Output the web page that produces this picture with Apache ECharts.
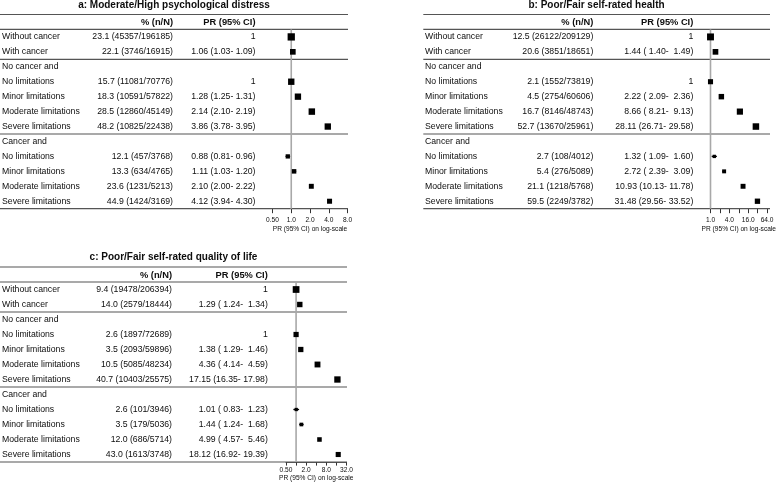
<!DOCTYPE html>
<html><head><meta charset="utf-8">
<script src="https://cdn.jsdelivr.net/npm/echarts/dist/echarts.min.js"></script>
<style>html,body{margin:0;padding:0;background:#fff}#c{width:778px;height:487px}</style>
</head><body><div id="c"></div>
<script>
// ---------- data ----------
const rowLabels = ["Without cancer","With cancer","No cancer and","No limitations","Minor limitations","Moderate limitations","Severe limitations","Cancer and","No limitations","Minor limitations","Moderate limitations","Severe limitations"];

// a: Moderate/High psychological distress
const aPct   = [23.1, 22.1, null, 15.7, 18.3, 28.5, 48.2, null, 12.1, 13.3, 23.6, 44.9];
const aCases = [45357, 3746, null, 11081, 10591, 12860, 10825, null, 457, 634, 1231, 1424];
const aTotal = [196185, 16915, null, 70776, 57822, 45149, 22438, null, 3768, 4765, 5213, 3169];
const aPR    = [1, 1.06, null, 1, 1.28, 2.14, 3.86, null, 0.88, 1.11, 2.10, 4.12];
const aLo    = [null, 1.03, null, null, 1.25, 2.10, 3.78, null, 0.81, 1.03, 2.00, 3.94];
const aHi    = [null, 1.09, null, null, 1.31, 2.19, 3.95, null, 0.96, 1.20, 2.22, 4.30];

// b: Poor/Fair self-rated health
const bPct   = [12.5, 20.6, null, 2.1, 4.5, 16.7, 52.7, null, 2.7, 5.4, 21.1, 59.5];
const bCases = [26122, 3851, null, 1552, 2754, 8146, 13670, null, 108, 276, 1218, 2249];
const bTotal = [209129, 18651, null, 73819, 60606, 48743, 25961, null, 4012, 5089, 5768, 3782];
const bPR    = [1, 1.44, null, 1, 2.22, 8.66, 28.11, null, 1.32, 2.72, 10.93, 31.48];
const bLo    = [null, 1.40, null, null, 2.09, 8.21, 26.71, null, 1.09, 2.39, 10.13, 29.56];
const bHi    = [null, 1.49, null, null, 2.36, 9.13, 29.58, null, 1.60, 3.09, 11.78, 33.52];

// c: Poor/Fair self-rated quality of life
const cPct   = [9.4, 14.0, null, 2.6, 3.5, 10.5, 40.7, null, 2.6, 3.5, 12.0, 43.0];
const cCases = [19478, 2579, null, 1897, 2093, 5085, 10403, null, 101, 179, 686, 1613];
const cTotal = [206394, 18444, null, 72689, 59896, 48234, 25575, null, 3946, 5036, 5714, 3748];
const cPR    = [1, 1.29, null, 1, 1.38, 4.36, 17.15, null, 1.01, 1.44, 4.99, 18.12];
const cLo    = [null, 1.24, null, null, 1.29, 4.14, 16.35, null, 0.83, 1.24, 4.57, 16.92];
const cHi    = [null, 1.34, null, null, 1.46, 4.59, 17.98, null, 1.23, 1.68, 5.46, 19.39];

// axis ranges (PR, log scale base 2) and tick labels
const aAxisRange = [0.5, 8];
const bAxisRange = [1, 64];
const cAxisRange = [0.5, 32];
const aTickLabels = ["0.50", "1.0", "2.0", "4.0", "8.0"];
const bTickLabels = ["1.0", "", "4.0", "", "16.0", "", "64.0"];
const cTickLabels = ["0.50", "", "2.0", "", "8.0", "", "32.0"];

const titles = ["a: Moderate/High psychological distress", "b: Poor/Fair self-rated health", "c: Poor/Fair self-rated quality of life"];
const headPct = "% (n/N)";
const headPR = "PR (95% CI)";
const axisName = "PR (95% CI) on log-scale";

// ---------- layout ----------
const FONT = "'Liberation Sans', Arial, Helvetica, sans-serif";
const TXT = '#0d0d0d';
const panels = [
  {title: titles[0], pct: aPct, cases: aCases, total: aTotal, pr: aPR, lo: aLo, hi: aHi, range: aAxisRange, ticks: aTickLabels,
   x0: 0, w: 348, top: 14.5, h: 194.2, plotL: 272.5, plotW: 75, labelX: 2, colPct: 173, colPR: 255.5, prW: 4,
   titleX: 174, titleY: 5.5, labelMargin: 7.5, nameGap: 16.8, tickLen: 4.5},
  {title: titles[1], pct: bPct, cases: bCases, total: bTotal, pr: bPR, lo: bLo, hi: bHi, range: bAxisRange, ticks: bTickLabels,
   x0: 423.3, w: 346.7, top: 14.5, h: 194.2, plotL: 710.5, plotW: 58.5, labelX: 1.7, colPct: 170, colPR: 270, prW: 5,
   titleX: 596.5, titleY: 5.5, labelMargin: 7.5, nameGap: 16.8, tickLen: 4.5},
  {title: titles[2], pct: cPct, cases: cCases, total: cTotal, pr: cPR, lo: cLo, hi: cHi, range: cAxisRange, ticks: cTickLabels,
   x0: 0, w: 347, top: 267, h: 195, plotL: 286, plotW: 60.5, labelX: 2, colPct: 172, colPR: 267.8, prW: 5,
   titleX: 173.5, titleY: 257, labelMargin: 4.6, nameGap: 11.2, tickLen: 3.6}
];

function pad(s, w) { while (s.length < w) s = ' ' + s; return s; }
function fmtPR(p, i) {
  if (p.pr[i] == null) return '';
  if (p.lo[i] == null) return String(p.pr[i]);
  return p.pr[i].toFixed(2) + ' (' + pad(p.lo[i].toFixed(2), p.prW) + '-' + pad(p.hi[i].toFixed(2), p.prW + 1) + ')';
}
function fmtPct(p, i) {
  if (p.pct[i] == null) return '';
  return p.pct[i].toFixed(1) + ' (' + p.cases[i] + '/' + p.total[i] + ')';
}
function txt(s, pt, align, size, weight) {
  return {type: 'text', x: pt[0], y: pt[1], silent: true,
    style: {text: s, fill: TXT, fontSize: size, fontFamily: FONT, fontWeight: weight || 'normal',
      align: align, textAlign: align, verticalAlign: 'middle', textVerticalAlign: 'middle'}};
}

const grid = [], xAxis = [], yAxis = [], series = [], graphic = [];
const BODY = 8.7, HEAD = 9.3;

panels.forEach((p, k) => {
  const gT = k * 2, gP = k * 2 + 1;
  grid.push({left: p.x0, top: p.top, width: p.w, height: p.h, containLabel: false});
  grid.push({left: p.plotL, top: p.top, width: p.plotW, height: p.h, containLabel: false});
  xAxis.push({gridIndex: gT, type: 'value', min: 0, max: p.w, show: false});
  yAxis.push({gridIndex: gT, type: 'value', min: -1.5, max: 11.5, inverse: true, show: false});
  const e0 = Math.round(Math.log2(p.range[0]));
  xAxis.push({gridIndex: gP, type: 'log', logBase: 2, min: p.range[0], max: p.range[1], splitNumber: 6,
    position: 'bottom',
    axisLine: {show: true, onZero: false, lineStyle: {color: '#555', width: 1.2}},
    axisTick: {show: true, inside: false, length: p.tickLen, lineStyle: {color: '#333', width: 1}},
    splitLine: {show: false},
    axisLabel: {fontSize: 6.6, color: TXT, fontFamily: FONT, margin: p.labelMargin, hideOverlap: false,
      showMinLabel: true, showMaxLabel: true,
      formatter: v => { const e = Math.round(Math.log2(v)); return p.ticks[e - e0] || ''; }},
    name: axisName, nameLocation: 'middle', nameGap: p.nameGap,
    nameTextStyle: {fontSize: 6.6, color: TXT, fontFamily: FONT}});
  yAxis.push({gridIndex: gP, type: 'value', min: -1.5, max: 11.5, inverse: true, show: false,
    axisLine: {onZero: false}});

  // text columns + rules
  series.push({
    type: 'custom', xAxisIndex: gT, yAxisIndex: gT, silent: true, clip: false, z: 1,
    encode: {x: 0, y: 1},
    data: rowLabels.map((_, i) => [0, i]),
    renderItem: (params, api) => {
      const i = api.value(1);
      const ch = [];
      if (params.dataIndex === 0) {
        [-1.5, -0.5, 1.5, 6.5, 11.5].forEach(y => {
          const a = api.coord([0, y]), b = api.coord([p.w, y]);
          ch.push({type: 'line', silent: true, shape: {x1: a[0], y1: a[1], x2: b[0], y2: b[1]},
            style: {stroke: '#555', lineWidth: 1.2}});
        });
        ch.push(txt(headPct, api.coord([p.colPct, -0.97]), 'right', HEAD, 'bold'));
        ch.push(txt(headPR, api.coord([p.colPR, -0.97]), 'right', HEAD, 'bold'));
      }
      ch.push(txt(rowLabels[i], api.coord([p.labelX, i]), 'left', BODY));
      const s1 = fmtPct(p, i);
      if (s1) ch.push(txt(s1, api.coord([p.colPct, i]), 'right', BODY));
      const s2 = fmtPR(p, i);
      if (s2) ch.push(txt(s2, api.coord([p.colPR, i]), 'right', BODY));
      return {type: 'group', children: ch};
    }
  });

  // forest marks
  const pd = [];
  p.pr.forEach((v, i) => {
    if (v == null) return;
    pd.push([v, i, p.lo[i] == null ? v : p.lo[i], p.hi[i] == null ? v : p.hi[i], p.cases[i]]);
  });
  series.push({
    type: 'custom', xAxisIndex: gP, yAxisIndex: gP, silent: true, clip: false, z: 3,
    encode: {x: 0, y: 1},
    data: pd,
    renderItem: (params, api) => {
      const ch = [];
      if (params.dataIndex === 0) {
        const a = api.coord([1, -0.5]), b = api.coord([1, 11.5]);
        ch.push({type: 'line', shape: {x1: a[0], y1: a[1], x2: b[0], y2: b[1]},
          style: {stroke: '#a8a8a8', lineWidth: 1.6}});
      }
      const y = api.value(1);
      const c = api.coord([api.value(0), y]);
      const l = api.coord([api.value(2), y]);
      const h = api.coord([api.value(3), y]);
      ch.push({type: 'line', shape: {x1: l[0], y1: c[1], x2: h[0], y2: c[1]},
        style: {stroke: '#000', lineWidth: 1.3}});
      const s = Math.max(3, 1.5 * Math.log10(api.value(4)) + 0.3);
      ch.push({type: 'rect', shape: {x: c[0] - s / 2, y: c[1] - s / 2, width: s, height: s},
        style: {fill: '#000'}});
      return {type: 'group', children: ch};
    }
  });

  graphic.push({type: 'text', x: p.titleX, y: p.titleY, silent: true,
    style: {text: p.title, fill: TXT, fontSize: 10, fontWeight: 'bold', fontFamily: FONT,
      align: 'center', textAlign: 'center', verticalAlign: 'middle', textVerticalAlign: 'middle'}});
});

const chart = echarts.init(document.getElementById('c'), null, {renderer: 'canvas'});
chart.setOption({
  animation: false,
  backgroundColor: '#fff',
  grid, xAxis, yAxis, series, graphic
});
</script>
</body></html>
